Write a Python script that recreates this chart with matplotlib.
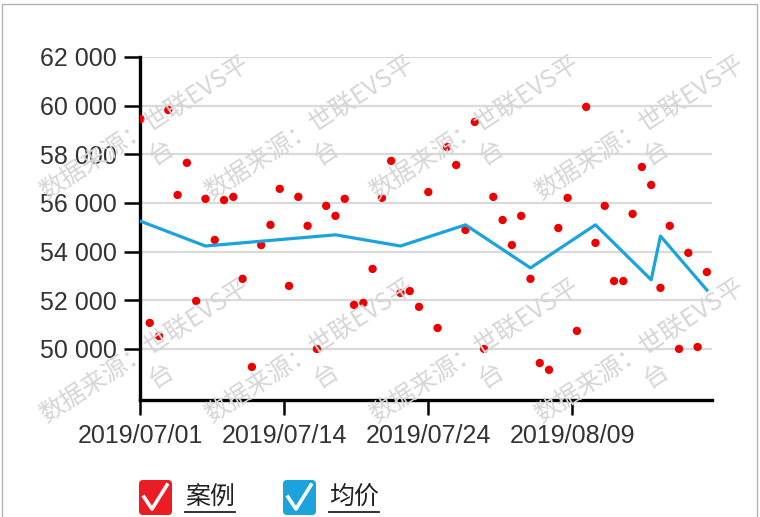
import numpy as np
import matplotlib
matplotlib.use("Agg")
import matplotlib.pyplot as plt
from matplotlib.patches import FancyBboxPatch, Rectangle
from matplotlib.lines import Line2D
from matplotlib.ticker import FuncFormatter

# scatter: one price per case, in category order
case_prices = [59450, 51070, 50530, 59820, 56330, 57650, 51970, 56170, 54480, 56120,
               56250, 52880, 49260, 54270, 55100, 56580, 52590, 56250, 55060, 50000,
               55880, 55470, 56170, 51810, 51890, 53290, 56210, 57730, 52300, 52380,
               51730, 56450, 50860, 58300, 57560, 54890, 59330, 50000, 56250, 55300,
               54270, 55470, 52880, 49420, 49140, 54970, 56210, 50740, 59950, 54360,
               55880, 52790, 52790, 55550, 57480, 56740, 52510, 55060, 50000, 53950,
               50080, 53160]

# average price line (category index -> value)
avg_idx = [0, 7, 21, 28, 35, 42, 49, 55, 56, 61]
avg_price = [55250, 54230, 54690, 54230, 55100, 53330, 55100, 52840, 54640, 52420]

tick_pos = [0, 15.5, 31, 46.5]
tick_labels = ["2019/07/01", "2019/07/14", "2019/07/24", "2019/08/09"]
y_ticks = [50000, 52000, 54000, 56000, 58000, 60000, 62000]

series_names = ["案例", "均价"]
series_colors = ["#ec1c24", "#1aa3dc"]
watermark = "数据来源：世联EVS平\n台"

W, H = 760, 517
fig = plt.figure(figsize=(W / 100, H / 100), dpi=100)
ax = fig.add_axes([140 / W, 1 - 400 / H, 572 / W, 343 / H])

ax.scatter(np.arange(len(case_prices)), case_prices, s=36, color="#ee0000",
           edgecolors="none", zorder=3)
ax.plot(avg_idx, avg_price, color=series_colors[1], lw=2.3, zorder=4)

ax.set_xlim(-0.05, 61.55)
ax.set_ylim(47900, 62000)
ax.set_yticks(y_ticks)
ax.yaxis.set_major_formatter(FuncFormatter(lambda v, p: f"{v:,.0f}".replace(",", " ")))
ax.set_xticks(tick_pos)
ax.set_xticklabels(tick_labels)
ax.grid(axis="y", color="#dadada", lw=1.6, zorder=0)
ax.set_axisbelow(True)

for s in ["top", "right"]:
    ax.spines[s].set_visible(False)
for s in ["left", "bottom"]:
    ax.spines[s].set_linewidth(2.4)
    ax.spines[s].set_color("black")

ax.tick_params(axis="y", length=11.5, width=1.8, pad=5, labelsize=18, labelcolor="#333333")
ax.tick_params(axis="x", length=10.5, width=1.8, pad=7, labelsize=18, labelcolor="#333333")
for lab in ax.get_xticklabels() + ax.get_yticklabels():
    lab.set_family("Liberation Sans")

# border round the picture
fig.patches.append(Rectangle((2 / W, -0.1), 755 / W, 1.1 - 4 / H, transform=fig.transFigure,
                             fill=False, edgecolor="#b4b4b4", lw=1))

# legend drawn by hand: check boxes with underlined labels
it = fig.dpi_scale_trans
for name, col, bx in zip(series_names, series_colors, [139, 283]):
    fig.patches.append(FancyBboxPatch((bx / 100, (H - 515) / 100), 0.33, 0.35,
                                      boxstyle="round,pad=0,rounding_size=0.04",
                                      transform=it, facecolor=col, edgecolor="none"))
    cx = [bx + 5, bx + 13, bx + 28]
    cy = [497, 509, 485]
    fig.lines.append(Line2D([v / 100 for v in cx], [(H - v) / 100 for v in cy],
                            transform=it, color="white", lw=2.6))
    tx = bx + 46
    fig.text(tx / 100, (H - 497) / 100, name, transform=it, fontsize=18, va="center",
             color="#222222", family=["Noto Sans CJK SC", "DejaVu Sans"])
    fig.lines.append(Line2D([tx / 100, (tx + 50) / 100], [(H - 512) / 100] * 2,
                            transform=it, color="#222222", lw=1.3))

# watermark grid
for row_y in [140, 363]:
    for col_x in [153, 318, 483, 648]:
        fig.text(col_x / W, 1 - row_y / H, watermark, rotation=33, ha="center", va="center",
                 multialignment="center", fontsize=18, color="#d6d6d6", zorder=5,
                 family=["Noto Sans CJK SC", "DejaVu Sans"], linespacing=1.2)

fig.savefig("out.png", dpi=100)
